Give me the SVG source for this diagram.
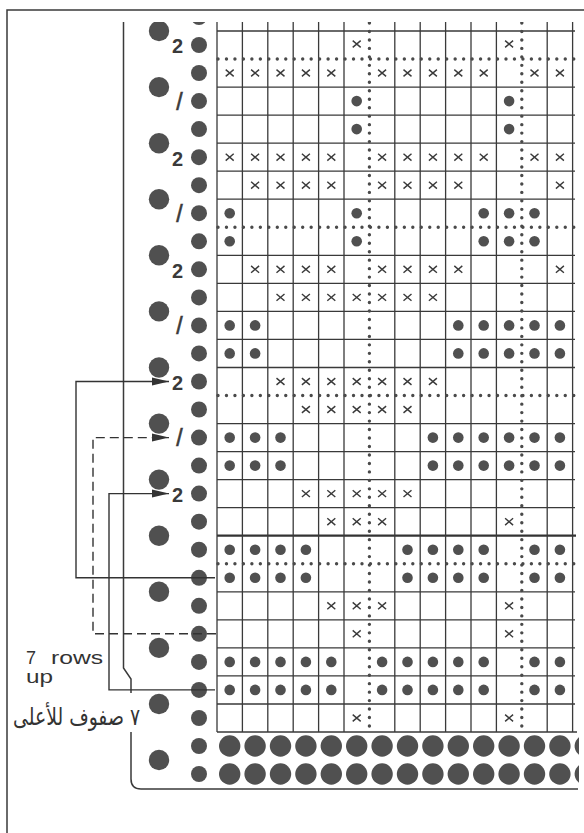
<svg xmlns="http://www.w3.org/2000/svg" xmlns:xlink="http://www.w3.org/1999/xlink" width="584" height="833" viewBox="0 0 584 833">
<style>
  .frame{fill:none;stroke:#3a3a3a;stroke-width:1.5}
  .gl{stroke:#3a3a3a;stroke-width:1.3;fill:none}
  .thick{stroke:#333;stroke-width:2.2;fill:none}
  .dl{stroke:#4a4a4a;stroke-width:3.4;stroke-linecap:round;stroke-dasharray:0 8.47;fill:none}
  .x{stroke:#3a3a3a;stroke-width:1.4;fill:none}
  .d{fill:#505050}
  .lbl{font-family:"Liberation Sans",Arial,sans-serif;font-size:20px;font-weight:bold;fill:#3a3a3a;text-anchor:middle}
  .sl{font-size:23px;font-weight:normal;stroke:#3a3a3a;stroke-width:0.6}
  .conn{stroke:#333;stroke-width:1.4;fill:none}
  .dash{stroke-dasharray:9 5}
  .note{font-family:"Liberation Sans",Arial,sans-serif;font-size:18px;fill:#333}
  .ar{font-family:"DejaVu Sans",sans-serif;font-size:24px;fill:#333}
</style>
<defs>
  <marker id="ah" markerUnits="userSpaceOnUse" markerWidth="18" markerHeight="10" viewBox="0 0 18 10" refX="17" refY="5" orient="auto">
    <path d="M0,1 L17,5 L0,9 Z" fill="#333"/>
  </marker>
  <clipPath id="cp"><rect x="0" y="22" width="579" height="811"/></clipPath>
  <path id="xm" d="M-4,-3.4 L4,3.4 M-4,3.4 L4,-3.4"/>
  <circle id="dt" r="5.3"/>
  <circle id="sc" r="8"/>
  <circle id="bc" r="10.7"/>
  <circle id="lc" r="10.2"/>
  <g id="pXa"><use href="#xm" x="356.7"/><use href="#xm" x="509.1"/></g>
  <g id="pXb"><use href="#xm" x="229.7"/><use href="#xm" x="255.1"/><use href="#xm" x="280.5"/><use href="#xm" x="305.9"/><use href="#xm" x="331.3"/><use href="#xm" x="382.1"/><use href="#xm" x="407.5"/><use href="#xm" x="432.9"/><use href="#xm" x="458.3"/><use href="#xm" x="483.7"/><use href="#xm" x="534.5"/><use href="#xm" x="559.9"/></g>
  <g id="pXc"><use href="#xm" x="255.1"/><use href="#xm" x="280.5"/><use href="#xm" x="305.9"/><use href="#xm" x="331.3"/><use href="#xm" x="382.1"/><use href="#xm" x="407.5"/><use href="#xm" x="432.9"/><use href="#xm" x="458.3"/><use href="#xm" x="559.9"/></g>
  <g id="pXd"><use href="#xm" x="280.5"/><use href="#xm" x="305.9"/><use href="#xm" x="331.3"/><use href="#xm" x="356.7"/><use href="#xm" x="382.1"/><use href="#xm" x="407.5"/><use href="#xm" x="432.9"/></g>
  <g id="pXe"><use href="#xm" x="305.9"/><use href="#xm" x="331.3"/><use href="#xm" x="356.7"/><use href="#xm" x="382.1"/><use href="#xm" x="407.5"/></g>
  <g id="pXf"><use href="#xm" x="331.3"/><use href="#xm" x="356.7"/><use href="#xm" x="382.1"/><use href="#xm" x="509.1"/></g>
  <g id="pDa"><use href="#dt" x="356.7"/><use href="#dt" x="509.1"/></g>
  <g id="pDb"><use href="#dt" x="229.7"/><use href="#dt" x="356.7"/><use href="#dt" x="483.7"/><use href="#dt" x="509.1"/><use href="#dt" x="534.5"/></g>
  <g id="pDc"><use href="#dt" x="229.7"/><use href="#dt" x="255.1"/><use href="#dt" x="458.3"/><use href="#dt" x="483.7"/><use href="#dt" x="509.1"/><use href="#dt" x="534.5"/><use href="#dt" x="559.9"/></g>
  <g id="pDd"><use href="#dt" x="229.7"/><use href="#dt" x="255.1"/><use href="#dt" x="280.5"/><use href="#dt" x="432.9"/><use href="#dt" x="458.3"/><use href="#dt" x="483.7"/><use href="#dt" x="509.1"/><use href="#dt" x="534.5"/><use href="#dt" x="559.9"/></g>
  <g id="pDe"><use href="#dt" x="229.7"/><use href="#dt" x="255.1"/><use href="#dt" x="280.5"/><use href="#dt" x="305.9"/><use href="#dt" x="407.5"/><use href="#dt" x="432.9"/><use href="#dt" x="458.3"/><use href="#dt" x="483.7"/><use href="#dt" x="534.5"/><use href="#dt" x="559.9"/></g>
  <g id="pDf"><use href="#dt" x="229.7"/><use href="#dt" x="255.1"/><use href="#dt" x="280.5"/><use href="#dt" x="305.9"/><use href="#dt" x="331.3"/><use href="#dt" x="382.1"/><use href="#dt" x="407.5"/><use href="#dt" x="432.9"/><use href="#dt" x="458.3"/><use href="#dt" x="483.7"/><use href="#dt" x="534.5"/><use href="#dt" x="559.9"/></g>
  <g id="bigrow">
    <use href="#bc" x="229.7"/><use href="#bc" x="255.1"/><use href="#bc" x="280.5"/><use href="#bc" x="305.9"/><use href="#bc" x="331.3"/><use href="#bc" x="356.7"/><use href="#bc" x="382.1"/><use href="#bc" x="407.5"/><use href="#bc" x="432.9"/><use href="#bc" x="458.3"/><use href="#bc" x="483.7"/><use href="#bc" x="509.1"/><use href="#bc" x="534.5"/><use href="#bc" x="559.9"/><use href="#bc" x="585.3"/>
  </g>
</defs>
<rect width="584" height="833" fill="#ffffff"/>
<path id="outer-frame" class="frame" d="M7,833 V10 H584"/>
<g id="chart" clip-path="url(#cp)">
  <path id="card-edge" class="frame" d="M123.5,22 V668 L131,679 V693 M131,732 V779 Q131,789 141,789 H578"/>
  <g id="left-holes" class="d">
    <use href="#lc" x="159" y="31"/><use href="#lc" x="159" y="87.1"/><use href="#lc" x="159" y="143.2"/><use href="#lc" x="159" y="199.2"/><use href="#lc" x="159" y="255.3"/><use href="#lc" x="159" y="311.4"/><use href="#lc" x="159" y="367.5"/><use href="#lc" x="159" y="423.6"/><use href="#lc" x="159" y="479.6"/><use href="#lc" x="159" y="535.7"/><use href="#lc" x="159" y="591.8"/><use href="#lc" x="159" y="647.9"/><use href="#lc" x="159" y="704"/><use href="#lc" x="159" y="760"/>
  </g>
  <g id="row-holes" class="d">
    <use href="#sc" x="199" y="17"/><use href="#sc" x="199" y="45"/><use href="#sc" x="199" y="73"/><use href="#sc" x="199" y="101.1"/><use href="#sc" x="199" y="129.1"/><use href="#sc" x="199" y="157.2"/><use href="#sc" x="199" y="185.2"/><use href="#sc" x="199" y="213.2"/><use href="#sc" x="199" y="241.3"/><use href="#sc" x="199" y="269.3"/><use href="#sc" x="199" y="297.4"/><use href="#sc" x="199" y="325.4"/><use href="#sc" x="199" y="353.4"/><use href="#sc" x="199" y="381.5"/><use href="#sc" x="199" y="409.5"/><use href="#sc" x="199" y="437.6"/><use href="#sc" x="199" y="465.6"/><use href="#sc" x="199" y="493.6"/><use href="#sc" x="199" y="521.7"/><use href="#sc" x="199" y="549.7"/><use href="#sc" x="199" y="577.8"/><use href="#sc" x="199" y="605.8"/><use href="#sc" x="199" y="633.8"/><use href="#sc" x="199" y="661.9"/><use href="#sc" x="199" y="689.9"/><use href="#sc" x="199" y="718"/><use href="#sc" x="199" y="746"/><use href="#sc" x="199" y="774"/>
  </g>
  <g id="grid">
    <path class="gl" d="M217,31 H575 M217,87.1 H575 M217,115.1 H575 M217,143.2 H575 M217,171.2 H575 M217,199.2 H575 M217,255.3 H575 M217,283.4 H575 M217,311.4 H575 M217,339.4 H575 M217,367.5 H575 M217,423.6 H575 M217,451.6 H575 M217,479.6 H575 M217,507.7 H575 M217,591.8 H575 M217,619.8 H575 M217,647.9 H575 M217,675.9 H575 M217,704 H575 M217,732 H577"/>
    <path class="thick" d="M217,535.7 H576"/>
    <path class="gl" d="M217,22 V732 M242.4,22 V732 M267.8,22 V732 M293.2,22 V732 M318.6,22 V732 M344,22 V732 M394.8,22 V732 M420.2,22 V732 M445.6,22 V732 M471,22 V732 M496.4,22 V732 M547.2,22 V732 M572.6,22 V732"/>
    <path class="dl" d="M218,59 H576 M218,227.3 H576 M218,395.5 H576 M218,563.8 H576"/>
    <path class="dl" d="M369.4,23 V730 M521.8,23 V730"/>
  </g>
  <g id="stitches">
    <g class="x">
      <use href="#pXa" y="44"/><use href="#pXb" y="73"/><use href="#pXb" y="157.2"/><use href="#pXc" y="185.2"/><use href="#pXc" y="269.3"/><use href="#pXd" y="297.4"/><use href="#pXd" y="381.5"/><use href="#pXe" y="409.5"/><use href="#pXe" y="493.6"/><use href="#pXf" y="521.7"/><use href="#pXf" y="605.8"/><use href="#pXa" y="633.8"/><use href="#pXa" y="718"/>
    </g>
    <g class="d">
      <use href="#pDa" y="101.1"/><use href="#pDa" y="129.1"/><use href="#pDb" y="213.2"/><use href="#pDb" y="241.3"/><use href="#pDc" y="325.4"/><use href="#pDc" y="353.4"/><use href="#pDd" y="437.6"/><use href="#pDd" y="465.6"/><use href="#pDe" y="549.7"/><use href="#pDe" y="577.8"/><use href="#pDf" y="661.9"/><use href="#pDf" y="689.9"/>
    </g>
  </g>
  <g id="bottom-holes" class="d">
    <use href="#bigrow" y="746"/><use href="#bigrow" y="774"/>
  </g>
  <g id="row-labels" class="lbl">
    <text x="177.5" y="53">2</text>
    <text class="sl" x="179.5" y="109.5">/</text>
    <text x="177.5" y="165.5">2</text>
    <text class="sl" x="179.5" y="221.5">/</text>
    <text x="177.5" y="277.5">2</text>
    <text class="sl" x="179.5" y="333.5">/</text>
    <text x="177.5" y="390">2</text>
    <text class="sl" x="179.5" y="446">/</text>
    <text x="177.5" y="502">2</text>
  </g>
</g>
<g id="connectors">
  <path class="conn" d="M215,577.8 H76 V381.5 H169" marker-end="url(#ah)"/>
  <path class="conn dash" d="M216,633.8 H93 V437.6 H169" marker-end="url(#ah)"/>
  <path class="conn" d="M215,689.9 H109 V493.6 H169" marker-end="url(#ah)"/>
</g>
<g id="note">
  <text class="note" x="26" y="664">7</text>
  <text class="note" x="51" y="664" textLength="52" lengthAdjust="spacingAndGlyphs">rows</text>
  <text class="note" x="26" y="683" textLength="27" lengthAdjust="spacingAndGlyphs">up</text>
  <text class="ar" x="13" y="725" textLength="127" lengthAdjust="spacingAndGlyphs">٧ صفوف للأعلى</text>
</g>
</svg>
